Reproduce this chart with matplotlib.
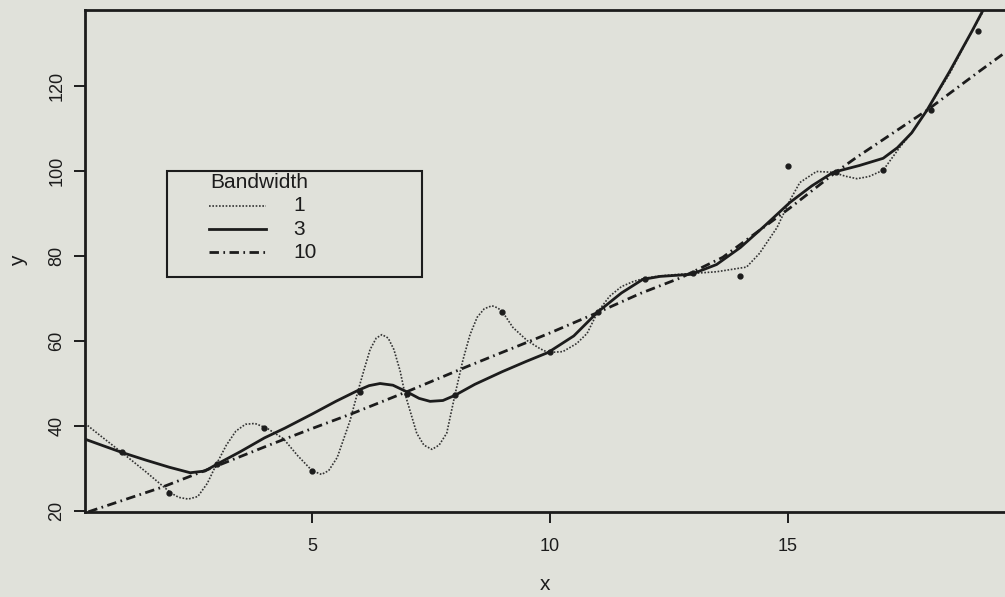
import matplotlib.pyplot as plt

plt.rcParams["font.family"] = ["Liberation Sans", "DejaVu Sans"]

# observations
obs_x = [1, 2, 3, 4, 5, 6, 7, 8, 9, 10, 11, 12, 13, 14, 15, 16, 17, 18, 19]
obs_y = [33.8, 24.2, 31.0, 39.5, 29.5, 48.0, 47.6, 47.2, 66.9, 57.3, 66.8,
         74.6, 76.0, 75.4, 101.3, 99.7, 100.2, 114.3, 133.0]

# kernel smooth, bandwidth 1
bw1_x = [0.23, 0.6, 1.0, 1.5, 2.04, 2.2, 2.4, 2.6, 2.8, 3.0, 3.2, 3.4, 3.6,
         3.8, 4.05, 4.4, 4.7, 5.0, 5.2, 5.35, 5.53, 5.8, 5.97, 6.1, 6.22,
         6.35, 6.47, 6.6, 6.72, 6.85, 6.95, 7.2, 7.35, 7.52, 7.67, 7.83, 8.0,
         8.17, 8.32, 8.47, 8.62, 8.78, 8.9, 9.0, 9.22, 9.52, 9.79, 9.96,
         10.27, 10.56, 10.78, 11.0, 11.25, 11.5, 11.75, 12.0, 12.3, 12.6,
         13.0, 13.5, 14.13, 14.4, 14.77, 15.04, 15.25, 15.6, 15.95, 16.2,
         16.45, 16.7, 17.0, 17.35, 17.6, 17.92, 18.4, 18.87, 19.2]
bw1_y = [40.6, 37.3, 33.8, 29.3, 24.2, 23.2, 22.8, 23.4, 26.5, 31.2, 35.5,
         38.8, 40.4, 40.6, 39.5, 37.0, 33.0, 29.5, 28.6, 29.5, 32.6, 41.3,
         48.4, 53.5, 58.0, 60.7, 61.5, 60.7, 58.0, 53.0, 47.7, 38.3, 35.5,
         34.5, 35.5, 38.3, 47.2, 55.5, 61.5, 65.6, 67.6, 68.3, 67.8, 66.9,
         63.2, 60.1, 58.2, 57.3, 57.5, 59.4, 61.8, 66.8, 70.5, 72.8, 74.0,
         74.8, 75.3, 75.6, 75.9, 76.3, 77.4, 80.6, 86.7, 93.1, 97.3, 99.9,
         99.7, 98.8, 98.2, 98.7, 100.2, 105.6, 109.0, 114.3, 123.0, 133.0,
         139.5]

# bandwidth 3
bw3_x = [0.23, 0.6, 1.0, 1.5, 2.0, 2.44, 2.75, 3.0, 3.5, 4.0, 4.43, 5.0, 5.5,
         5.97, 6.2, 6.43, 6.7, 7.0, 7.25, 7.48, 7.75, 8.0, 8.42, 9.0, 9.5,
         9.96, 10.5, 11.0, 11.5, 11.95, 12.31, 12.97, 13.5, 14.0, 14.5,
         15.04, 15.5, 15.95, 16.5, 17.0, 17.3, 17.6, 17.92, 18.4, 18.87,
         19.2]
bw3_y = [36.9, 35.4, 33.8, 32.0, 30.3, 29.0, 29.4, 31.0, 34.0, 37.2, 39.5,
         42.8, 45.8, 48.4, 49.5, 50.0, 49.6, 48.0, 46.5, 45.8, 46.0, 47.2,
         49.8, 52.8, 55.2, 57.3, 61.2, 66.8, 71.3, 74.5, 75.2, 75.7, 78.0,
         82.0, 87.0, 92.6, 96.5, 99.7, 101.3, 103.0, 105.5, 109.0, 114.3,
         123.5, 133.0, 140.0]

# bandwidth 10
bw10_x = [0.3, 1.85, 3.0, 4.12, 5.0, 5.86, 7.0, 8.26, 9.52, 10.0, 11.0, 11.9,
          12.75, 13.63, 14.3, 15.04, 16.0, 16.45, 17.0, 17.92, 19.0, 19.6]
bw10_y = [19.8, 25.6, 30.6, 35.6, 39.4, 43.0, 48.1, 54.0, 59.7, 61.9, 66.7,
          71.2, 74.9, 79.7, 85.2, 91.3, 99.7, 103.3, 107.4, 114.3, 123.3,
          128.2]

legend_title = "Bandwidth"
legend_labels = ["1", "3", "10"]

bg = "#e0e1da"
ink = "#1c1c1c"
styles = [
    dict(lw=1.2, ls=(0, (1, 1)), color="#333333"),
    dict(lw=2.0, ls="-", color=ink),
    dict(lw=2.0, ls=(0, (3.4, 1.6, 0.6, 1.6)), color=ink),
]

fig = plt.figure(figsize=(10.05, 5.97), dpi=100, facecolor=bg)
ax = fig.add_axes([85 / 1005, 85 / 597, 920 / 1005, 502 / 597], facecolor=bg)

ax.plot(bw1_x, bw1_y, **styles[0])
ax.plot(bw3_x, bw3_y, **styles[1])
ax.plot(bw10_x, bw10_y, **styles[2])
ax.plot(obs_x, obs_y, "o", ms=3.5, color=ink, lw=0)

ax.set_xlim(0.23, 19.56)
ax.set_ylim(19.76, 137.9)
ax.set_xticks([5, 10, 15])
ax.set_yticks([20, 40, 60, 80, 100, 120])
ax.tick_params(axis="both", direction="out", length=8, width=1.4,
               colors=ink, labelsize=13)
ax.tick_params(axis="x", pad=11)
ax.tick_params(axis="y", pad=6)
for lab in ax.get_yticklabels():
    lab.set_rotation(90)
    lab.set_va("center")

for side in ["left", "bottom", "top"]:
    ax.spines[side].set_linewidth(2.0)
    ax.spines[side].set_color(ink)
ax.spines["right"].set_visible(False)

ax.set_xlabel("x", fontsize=15, color=ink, labelpad=14)
ax.set_ylabel("y", fontsize=15, color=ink, labelpad=15)

# legend box drawn in axes coordinates
box = plt.Rectangle((0.0891, 0.4681), 0.2772, 0.2112, transform=ax.transAxes,
                    fill=False, lw=1.5, edgecolor=ink)
ax.add_patch(box)
ax.text(0.1359, 0.6554, legend_title, transform=ax.transAxes, fontsize=15,
        color=ink, ha="left", va="center")
for i, (lab, st) in enumerate(zip(legend_labels, styles)):
    yy = 0.6096 - i * 0.0459
    ax.plot([0.1348, 0.1967], [yy, yy], transform=ax.transAxes, **st)
    ax.text(0.2266, yy, lab, transform=ax.transAxes, fontsize=15, color=ink,
            ha="left", va="center")

fig.savefig("out.png", dpi=100, facecolor=bg)
